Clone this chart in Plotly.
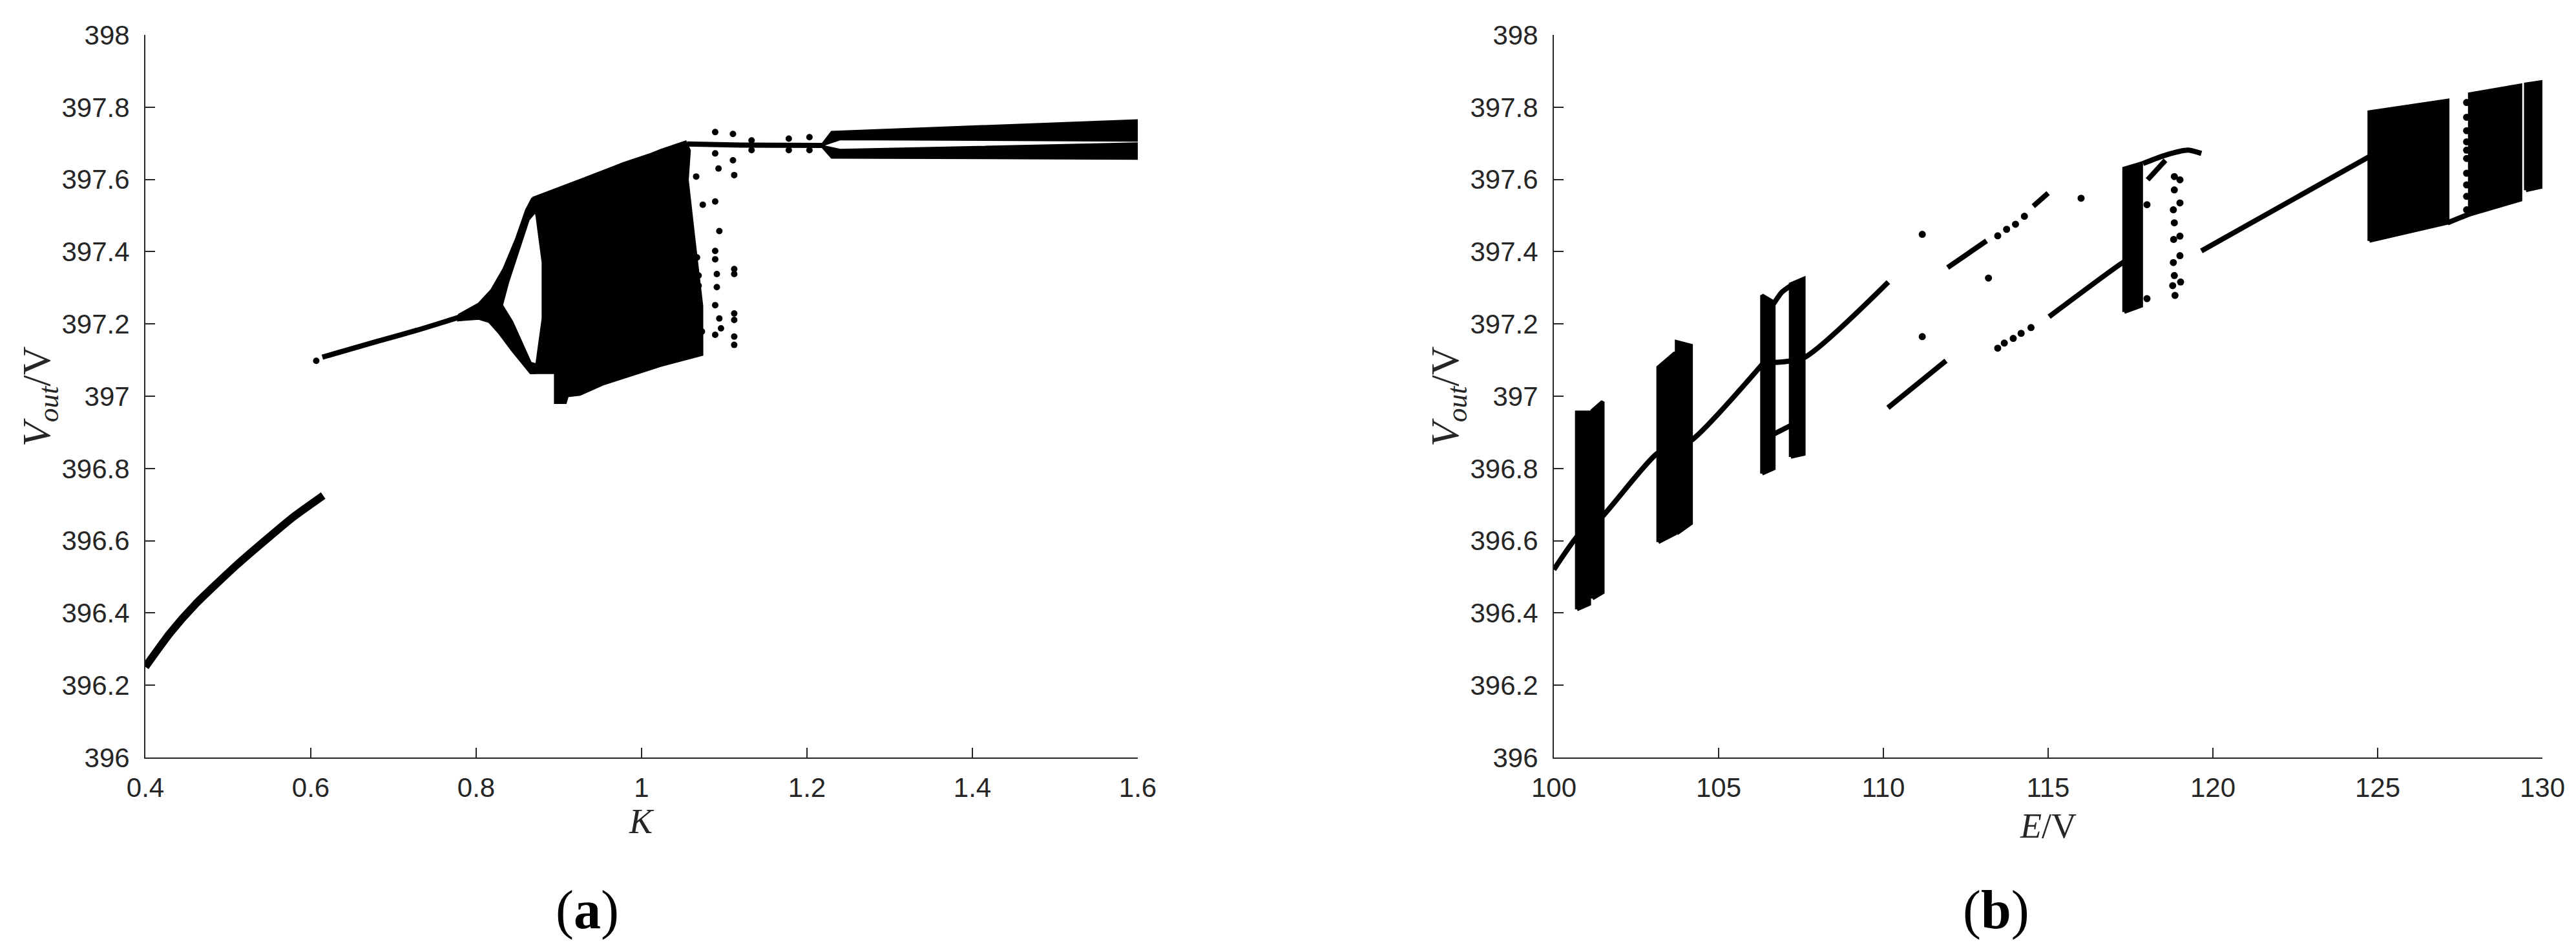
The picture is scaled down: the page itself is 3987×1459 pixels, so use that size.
import plotly.graph_objects as go

# ---------------- (a) V_out versus K ----------------
# lower period-1 branch
k_low = [0.400, 0.430, 0.460, 0.510, 0.549, 0.579, 0.615]
v_low = [396.251, 396.345, 396.423, 396.532, 396.609, 396.666, 396.725]

# upper period-1 branch before the split
k_up = [0.614, 0.679, 0.729, 0.7785, 0.803]
v_up = [397.108, 397.151, 397.183, 397.218, 397.236]
k_dot = [0.6066]
v_dot = [397.098]

# period-2 arms (outer edge then inner edge)
k_arm_top = [0.7785, 0.8034, 0.8184, 0.8333, 0.8483, 0.8608, 0.8682,
             0.8732, 0.8632, 0.8508, 0.8384, 0.8309, 0.8034, 0.7785]
v_arm_top = [397.224, 397.256, 397.293, 397.352, 397.434, 397.516, 397.548,
             397.516, 397.489, 397.402, 397.316, 397.252, 397.220, 397.211]
k_arm_bot = [0.7785, 0.8034, 0.8159, 0.8283, 0.8433, 0.8583, 0.8657, 0.8707,
             0.8732, 0.8657, 0.8558, 0.8433, 0.8309]
v_arm_bot = [397.211, 397.215, 397.206, 397.174, 397.128, 397.087, 397.065, 397.065,
             397.087, 397.092, 397.142, 397.206, 397.252]

# chaotic band outline
k_chaos = [0.8682, 0.8782, 0.928, 0.9778, 1.0117, 1.0233, 1.0531, 1.058, 1.0555,
           1.0631, 1.073, 1.0731, 1.0233, 0.9529, 0.9255, 0.9105, 0.908, 0.8956,
           0.8956, 0.8657, 0.8732, 0.8807, 0.8807, 0.8732]
v_chaos = [397.548, 397.557, 397.600, 397.644, 397.670, 397.681, 397.704, 397.680, 397.599,
           397.444, 397.250, 397.115, 397.085, 397.033, 397.005, 397.001, 396.982, 396.982,
           397.065, 397.065, 397.090, 397.215, 397.370, 397.500]

# isolated points right of the band
k_scat = [1.093, 1.112, 1.089, 1.094, 1.089, 1.089, 1.091, 1.112, 1.112, 1.091, 1.089,
          1.094, 1.112, 1.112, 1.089, 1.096, 1.112, 1.112, 1.067, 1.069, 1.069, 1.066,
          1.074, 1.066, 1.073, 1.089, 1.089, 1.1105, 1.1105, 1.133, 1.133, 1.178, 1.178,
          1.203, 1.203]
v_scat = [397.630, 397.612, 397.539, 397.457, 397.402, 397.379, 397.338, 397.352, 397.338,
          397.302, 397.252, 397.215, 397.229, 397.211, 397.170, 397.188, 397.165, 397.142,
          397.384, 397.334, 397.306, 397.608, 397.530, 397.247, 397.179, 397.731, 397.672,
          397.726, 397.653, 397.708, 397.681, 397.713, 397.681, 397.717, 397.681]

# period-1 window and final period-2 fork
k_win = [1.055, 1.120, 1.222]
v_win = [397.698, 397.695, 397.694]
k_fork_top = [1.218, 1.230, 1.600, 1.600, 1.240, 1.225]
v_fork_top = [397.695, 397.731, 397.763, 397.708, 397.712, 397.700]
k_fork_bot = [1.218, 1.230, 1.600, 1.600, 1.240, 1.225]
v_fork_bot = [397.692, 397.661, 397.658, 397.699, 397.681, 397.688]

# ---------------- (b) V_out versus E ----------------
e_l1 = [100.0, 100.73, 101.41, 103.13, 104.16, 106.36]
v_l1 = [396.52, 396.614, 396.661, 396.841, 396.877, 397.092]
e_l2 = [106.36, 107.58, 110.15]
v_l2 = [397.092, 397.106, 397.316]
e_l3 = [110.14, 111.90]
v_l3 = [396.968, 397.098]
e_l4 = [111.95, 113.13]
v_l4 = [397.356, 397.430]
e_l5 = [114.55, 115.0]
v_l5 = [397.526, 397.562]
e_l6 = [115.03, 117.27, 117.5]
v_l6 = [397.220, 397.370, 397.38]
e_l7 = [119.65, 124.82]
v_l7 = [397.402, 397.667]
e_br1 = [106.67, 106.92, 107.19]
v_br1 = [397.256, 397.288, 397.306]
e_br2 = [106.67, 107.19]
v_br2 = [396.895, 396.919]
e_br3 = [117.88, 118.56, 119.24, 119.65]
v_br3 = [397.644, 397.667, 397.681, 397.672]
e_br4 = [118.02, 118.56]
v_br4 = [397.599, 397.653]
e_br5 = [127.12, 127.8]
v_br5 = [397.48, 397.505]

# chaotic windows drawn as outlines (E, V corners)
e_bars = [[100.70, 101.07, 101.07, 100.70],
          [101.17, 101.48, 101.48, 101.17],
          [103.17, 103.68, 103.68, 103.17],
          [103.73, 104.16, 104.16, 103.73],
          [106.32, 106.67, 106.67, 106.32],
          [107.19, 107.58, 107.58, 107.19],
          [117.31, 117.82, 117.82, 117.31],
          [124.75, 127.12, 127.12, 124.75],
          [127.80, 129.33, 129.33, 127.80],
          [129.50, 130.00, 130.00, 129.50]]
v_bars = [[396.41, 396.425, 396.955, 396.955],
          [396.44, 396.457, 396.985, 396.96],
          [396.596, 396.62, 397.12, 397.08],
          [396.62, 396.648, 397.14, 397.15],
          [396.786, 396.80, 397.26, 397.279],
          [396.832, 396.84, 397.325, 397.31],
          [397.233, 397.25, 397.644, 397.63],
          [397.430, 397.480, 397.818, 397.786],
          [397.503, 397.544, 397.86, 397.836],
          [397.57, 397.58, 397.87, 397.863]]

# isolated points
e_pts = [111.18, 111.18, 113.47, 113.67, 113.94, 114.18, 114.48, 113.19, 113.47, 113.74,
         114.01, 114.28, 116.0, 118.0, 118.0,
         118.83, 118.83, 118.80, 118.83, 118.81, 118.80, 118.83, 118.78, 118.85,
         119.0, 119.0, 119.0, 119.0, 119.02,
         127.70, 127.70, 127.70, 127.70, 127.70, 127.70, 127.70, 127.70, 127.70, 127.70]
v_pts = [397.448, 397.165, 397.133, 397.147, 397.160, 397.174, 397.190, 397.327, 397.444, 397.462,
         397.476, 397.498, 397.548, 397.53, 397.27,
         397.608, 397.571, 397.516, 397.480, 397.434, 397.370, 397.334, 397.306, 397.279,
         397.599, 397.535, 397.443, 397.389, 397.316,
         397.813, 397.772, 397.735, 397.704, 397.681, 397.658, 397.617, 397.585, 397.553, 397.516]

k_ticks = [0.4, 0.6, 0.8, 1.0, 1.2, 1.4, 1.6]
k_labels = ['0.4', '0.6', '0.8', '1', '1.2', '1.4', '1.6']
e_ticks = [100, 105, 110, 115, 120, 125, 130]
e_labels = ['100', '105', '110', '115', '120', '125', '130']
v_ticks = [396, 396.2, 396.4, 396.6, 396.8, 397, 397.2, 397.4, 397.6, 397.8, 398]
v_labels = ['396', '396.2', '396.4', '396.6', '396.8', '397', '397.2', '397.4', '397.6', '397.8', '398']

INK = 'black'
fig = go.Figure()


def line(x, y, w, xa='x', ya='y', shape='linear'):
    fig.add_trace(go.Scatter(x=x, y=y, mode='lines', xaxis=xa, yaxis=ya,
                             line=dict(color=INK, width=w, shape=shape, smoothing=0.6),
                             hoverinfo='skip'))


def poly(x, y, xa='x', ya='y', w=4):
    fig.add_trace(go.Scatter(x=x + [x[0]], y=y + [y[0]], mode='lines', fill='toself',
                             fillcolor=INK, xaxis=xa, yaxis=ya,
                             line=dict(color=INK, width=w), hoverinfo='skip'))


def dots(x, y, s, xa='x', ya='y'):
    fig.add_trace(go.Scatter(x=x, y=y, mode='markers', xaxis=xa, yaxis=ya,
                             marker=dict(color=INK, size=s), hoverinfo='skip'))


# panel (a)
line(k_low, v_low, 12, shape='spline')
line(k_up, v_up, 8, shape='spline')
dots(k_dot, v_dot, 10)
poly(k_arm_top, v_arm_top)
poly(k_arm_bot, v_arm_bot)
poly(k_chaos, v_chaos)
dots(k_scat, v_scat, 10)
line(k_win, v_win, 8)
poly(k_fork_top, v_fork_top)
poly(k_fork_bot, v_fork_bot)

# panel (b)
for ex, vy in [(e_l1, v_l1), (e_l2, v_l2), (e_l3, v_l3), (e_l4, v_l4), (e_l5, v_l5),
               (e_l6, v_l6), (e_l7, v_l7), (e_br1, v_br1), (e_br2, v_br2),
               (e_br3, v_br3), (e_br4, v_br4), (e_br5, v_br5)]:
    line(ex, vy, 8, 'x2', 'y2', shape='spline')
for ex, vy in zip(e_bars, v_bars):
    poly(ex, vy, 'x2', 'y2', w=6)
dots(e_pts, v_pts, 11, 'x2', 'y2')

AX = '#262626'
tick_font = dict(family='Liberation Sans, Arial, sans-serif', size=42, color=AX)
common = dict(showline=True, linecolor=AX, linewidth=2, mirror=False, ticks='inside',
              ticklen=15, tickwidth=2, tickcolor=AX, showgrid=False, zeroline=False,
              tickfont=tick_font, automargin=False)

fig.update_layout(
    width=3987, height=1459,
    margin=dict(l=0, r=0, t=0, b=0),
    paper_bgcolor='white', plot_bgcolor='white',
    showlegend=False,
    xaxis=dict(domain=[0.05443, 0.43968], range=[0.4, 1.6], tickvals=k_ticks,
               ticktext=k_labels, anchor='y', ticklabelstandoff=9, **common),
    yaxis=dict(domain=[0.20219, 0.96847], range=[396, 398], tickvals=v_ticks,
               ticktext=v_labels, anchor='x', ticklabelstandoff=14, **common),
    xaxis2=dict(domain=[0.60120, 0.98495], range=[100, 130], tickvals=e_ticks,
                ticktext=e_labels, anchor='y2', ticklabelstandoff=9, **common),
    yaxis2=dict(domain=[0.20219, 0.96847], range=[396, 398], tickvals=v_ticks,
                ticktext=v_labels, anchor='x2', ticklabelstandoff=14, **common),
)

serif = 'Liberation Serif, Times New Roman, serif'
title_font = dict(family=serif, size=54, color=AX)
ytitle_font = dict(family=serif, size=62, color=AX)
panel_font = dict(family=serif, size=84, color='black')
annots = [
    dict(x=0.24705, y=0.1343, text='<i>K</i>', font=title_font, textangle=0),
    dict(x=0.79308, y=0.1295, text='<i>E</i>/V', font=title_font, textangle=0),
    dict(x=52 / 3987, y=0.5853, text='<i>V</i><sub><i>out</i></sub>/V', font=ytitle_font, textangle=-90),
    dict(x=2232 / 3987, y=0.5853, text='<i>V</i><sub><i>out</i></sub>/V', font=ytitle_font, textangle=-90),
    dict(x=0.22598, y=0.04044, text='(<b>a</b>)', font=panel_font, textangle=0),
    dict(x=0.77301, y=0.04044, text='(<b>b</b>)', font=panel_font, textangle=0),
]
for a in annots:
    fig.add_annotation(xref='paper', yref='paper', showarrow=False,
                       xanchor='center', yanchor='middle', **a)

fig.write_html("out.html")
